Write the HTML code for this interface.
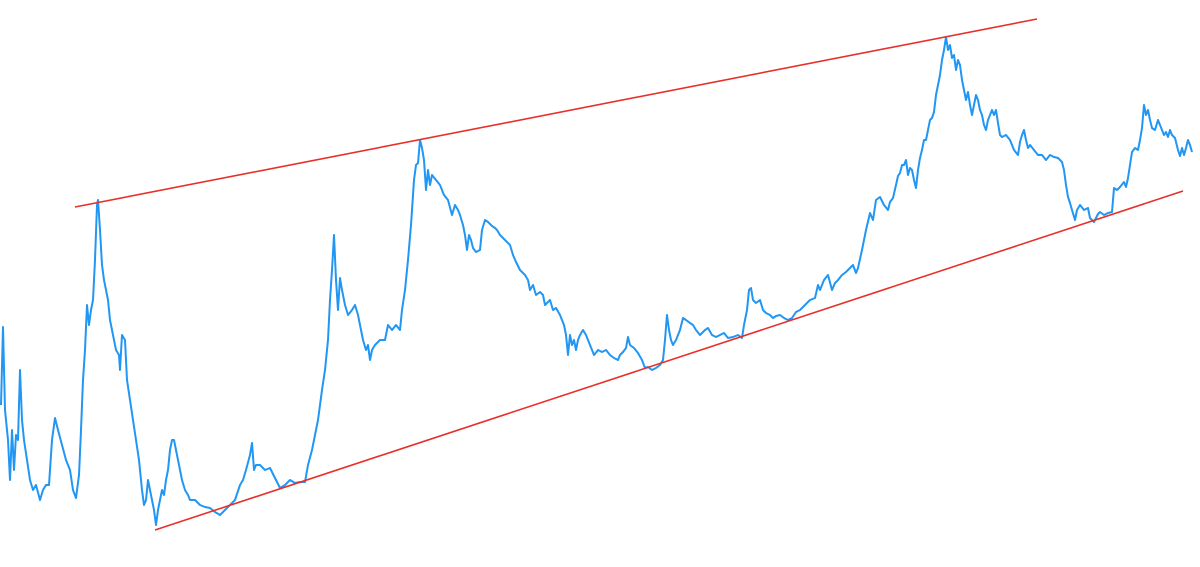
<!DOCTYPE html>
<html><head><meta charset="utf-8"><style>
html,body{margin:0;padding:0;background:#fff;width:1200px;height:567px;overflow:hidden;font-family:"Liberation Sans",sans-serif}
svg{display:block}
</style></head><body>
<svg id="chart" width="1200" height="567" viewBox="0 0 1200 567"></svg>
<script>
const xs = [1,3,5,8,10,12,14,16,18,20,22,24,27,30,33,36,40,43,46,49,52,55,58,62,66,70,73,76,79,81,83,85,87,89,91,93,95,97,98,100,102,104,106,108,110,113,116,119,120,122,125,127,130,133,136,139,142,144,146,148,150,152,154,156,158,160,162,164,166,168,170,172,174,176,178,180,182,185,188,190,195,200,205,210,215,220,225,230,235,240,243,246,250,252,254,256,260,265,270,275,280,285,290,295,300,305,308,312,315,318,322,325,328,330,332,334,336,338,340,342,345,348,352,355,358,360,363,366,368,370,372,375,380,385,388,392,396,400,402,405,408,411,414,416,418,420,422,424,426,428,430,432,436,440,444,448,452,455,458,460,463,465,467,469,471,473,476,480,482,485,488,492,495,497,500,505,510,513,516,520,525,528,530,533,536,540,543,545,550,553,556,560,562,564,566,568,570,572,574,576,578,580,583,586,590,594,598,602,606,610,614,618,620,623,626,628,630,634,638,642,645,648,652,656,660,663,665,667,669,671,673,676,680,683,686,690,693,696,700,705,708,712,716,720,724,728,733,738,742,744,747,749,751,753,756,760,763,766,770,773,776,780,784,788,792,796,800,805,810,815,818,820,824,828,832,835,838,842,846,850,853,856,858,862,866,870,873,876,880,884,888,890,893,896,898,900,902,904,906,908,910,912,914,916,918,920,922,924,926,928,930,932,934,936,938,940,942,944,946,948,950,952,954,956,958,960,962,964,966,968,970,972,974,976,978,980,982,984,986,988,990,992,994,996,998,1000,1002,1006,1010,1014,1018,1020,1022,1024,1026,1028,1030,1034,1038,1042,1046,1050,1054,1058,1062,1064,1066,1068,1070,1072,1075,1077,1080,1084,1088,1090,1094,1098,1100,1104,1108,1112,1114,1117,1120,1124,1126,1128,1130,1132,1135,1138,1140,1142,1144,1146,1148,1150,1152,1155,1158,1160,1164,1166,1168,1170,1172,1175,1178,1180,1182,1184,1186,1188,1190,1192];
const ys = [405,327,410,440,480,430,470,435,440,370,420,440,460,480,490,485,500,490,485,485,440,418,430,445,460,470,490,498,475,430,380,350,305,325,310,300,260,205,200,230,265,280,290,300,320,335,350,355,370,335,340,380,400,420,440,460,490,505,500,480,490,500,510,525,510,500,490,495,480,470,450,440,440,450,460,470,480,490,495,500,500,505,507,508,512,515,510,505,500,485,480,470,455,443,470,465,465,470,468,478,488,485,480,483,482,482,465,450,435,420,390,370,340,300,270,235,280,310,278,290,305,315,310,305,315,325,340,350,345,360,350,345,340,340,325,330,325,330,310,290,260,225,180,165,163,140,148,160,190,170,185,175,180,185,195,200,215,205,210,215,225,235,250,235,240,248,252,250,230,220,222,226,228,230,235,240,245,255,262,270,275,280,290,285,295,292,295,305,300,310,308,315,320,325,335,355,335,345,340,350,340,335,330,335,345,355,350,352,350,355,358,360,355,352,348,337,345,348,353,360,368,367,370,368,365,360,340,315,330,340,345,340,330,318,320,323,325,330,335,330,328,335,337,335,333,338,337,335,338,325,310,290,288,300,303,300,310,313,315,318,316,315,318,320,318,312,310,305,300,298,285,290,280,275,290,283,280,275,272,268,265,273,268,250,230,213,220,200,197,205,210,202,198,185,176,173,165,165,160,175,168,170,180,188,170,158,150,140,140,130,120,118,112,95,85,75,60,50,37,50,45,58,55,70,60,65,80,90,100,92,105,115,105,95,100,110,115,125,130,120,115,110,115,110,123,135,137,135,140,150,155,142,135,130,140,148,145,150,155,155,160,155,157,158,162,170,185,197,203,210,220,210,205,210,208,218,222,214,212,215,213,212,188,190,187,182,187,178,165,152,148,150,140,128,105,115,110,120,128,130,120,125,135,132,137,130,135,138,150,156,148,155,148,140,145,152];
const trendX = [75,1037,155,1183];
const trendY = [207,19,530,191];

const W=1200,H=567;
const xScale = v => v*(W/1200);
const yScale = v => v*(H/567);
const NS="http://www.w3.org/2000/svg";
const svg=document.getElementById('chart');

let d='';
for(let i=0;i<xs.length;i++){d+=(i?'L':'M')+xScale(xs[i]).toFixed(1)+' '+yScale(ys[i]).toFixed(1);}
const path=document.createElementNS(NS,'path');
path.setAttribute('d',d);
path.setAttribute('fill','none');
path.setAttribute('stroke','#2196f3');
path.setAttribute('stroke-width','2');
path.setAttribute('stroke-linejoin','round');


svg.appendChild(path);

for(let k=0;k<2;k++){
  const ln=document.createElementNS(NS,'line');
  ln.setAttribute('x1',xScale(trendX[2*k]));
  ln.setAttribute('y1',yScale(trendY[2*k]));
  ln.setAttribute('x2',xScale(trendX[2*k+1]));
  ln.setAttribute('y2',yScale(trendY[2*k+1]));
  ln.setAttribute('stroke','#e8302a');
  ln.setAttribute('stroke-width','1.6');
  
  
  svg.appendChild(ln);
}
</script>
</body></html>
